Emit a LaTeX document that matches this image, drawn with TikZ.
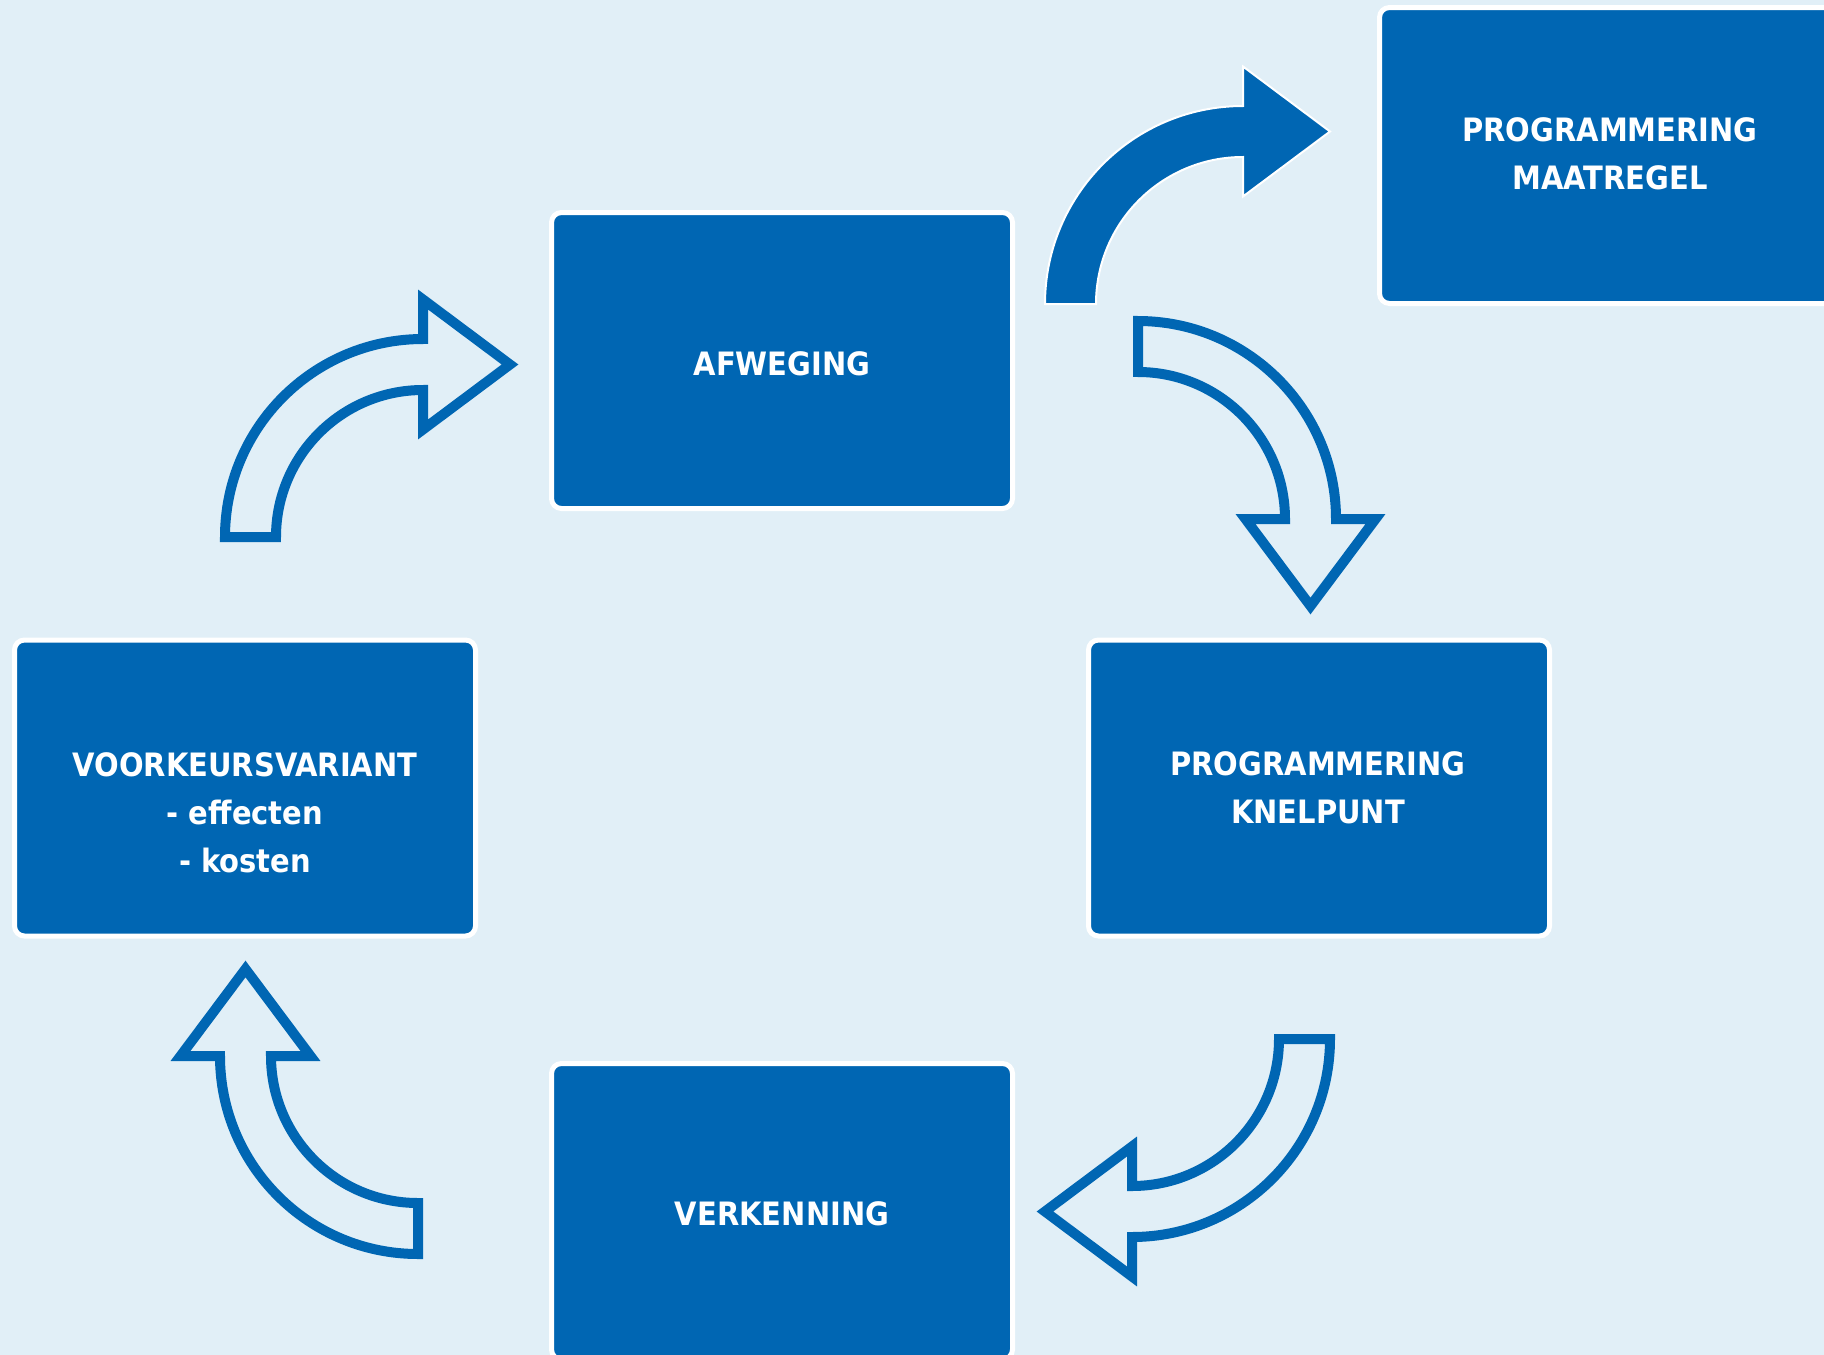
\documentclass[tikz,border=0pt]{standalone}
\usepackage{fontspec}
\setmainfont{DejaVu Sans Condensed}
\usetikzlibrary{calc}
\definecolor{rwsblue}{RGB}{0,102,179}
\definecolor{bglight}{RGB}{225,239,247}
\tikzset{
  stagebox/.style={draw=white, line width=5pt, fill=rwsblue, rounded corners=10pt,
    minimum width=461pt, minimum height=296pt, inner sep=0pt},
  stagetext/.style={text=white, font=\bfseries\fontsize{32.2}{48}\selectfont,
    align=center, inner sep=0pt, anchor=north},
  solidarrow/.style={fill=rwsblue, draw=white, line width=2pt, line join=miter},
  hollowarrow/.style={draw=rwsblue, line width=10pt, line join=miter},
}
\newcommand{\bigcurvedarrow}[3]{%
  \pgfmathsetmacro{\angA}{#3}%
  \pgfmathsetmacro{\angB}{#3+90}%
  \pgfmathsetmacro{\angD}{#3+180}%
  \draw[#1] ($(#2)+(\angA:198)$) arc[start angle=\angA, end angle=\angB, radius=198]
    -- ($(#2)+(\angB:237.5)$) -- ($(#2)+(\angB:172.5)+(\angD:87)$) -- ($(#2)+(\angB:107.5)$)
    -- ($(#2)+(\angB:147)$) arc[start angle=\angB, end angle=\angA, radius=147] -- cycle;
}
\begin{document}
\begin{tikzpicture}[x=1pt, y=-1pt]
\useasboundingbox (0,0) rectangle (1824,1355);
\begin{scope}
\clip (0,0) rectangle (1824,1355);
\fill[bglight] (0,0) rectangle (1824,1355);

% stage boxes
\node[stagebox] (afw)  at (782,360.5)  {};
\node[stagebox] (maat) at (1610,155.5) {};
\node[stagebox] (knel) at (1319,788)   {};
\node[stagebox] (verk) at (782,1211.5) {};
\node[stagebox] (voor) at (245,788)    {};

% texts
\node[stagetext] (afwt)  at (782,351)  {AFWEGING};
\node[stagetext] (maatt) at (1610,117) {PROGRAMMERING\\MAATREGEL};
\node[stagetext] (knelt) at (1318,751) {PROGRAMMERING\\KNELPUNT};
\node[stagetext] (verkt) at (782,1201) {VERKENNING};
\node[stagetext] (voort) at (245,752)  {VOORKEURSVARIANT\\- effecten\\- kosten};

% arrow centres
\coordinate (c1) at (1243,304);
\coordinate (c2) at (1138,519);
\coordinate (c3) at (1132,1039);
\coordinate (c4) at (418,1056);
\coordinate (c5) at (423,537);

\bigcurvedarrow{solidarrow}{c1}{180}
\bigcurvedarrow{hollowarrow}{c2}{270}
\bigcurvedarrow{hollowarrow}{c3}{0}
\bigcurvedarrow{hollowarrow}{c4}{90}
\bigcurvedarrow{hollowarrow}{c5}{180}
\end{scope}
\end{tikzpicture}
\end{document}
